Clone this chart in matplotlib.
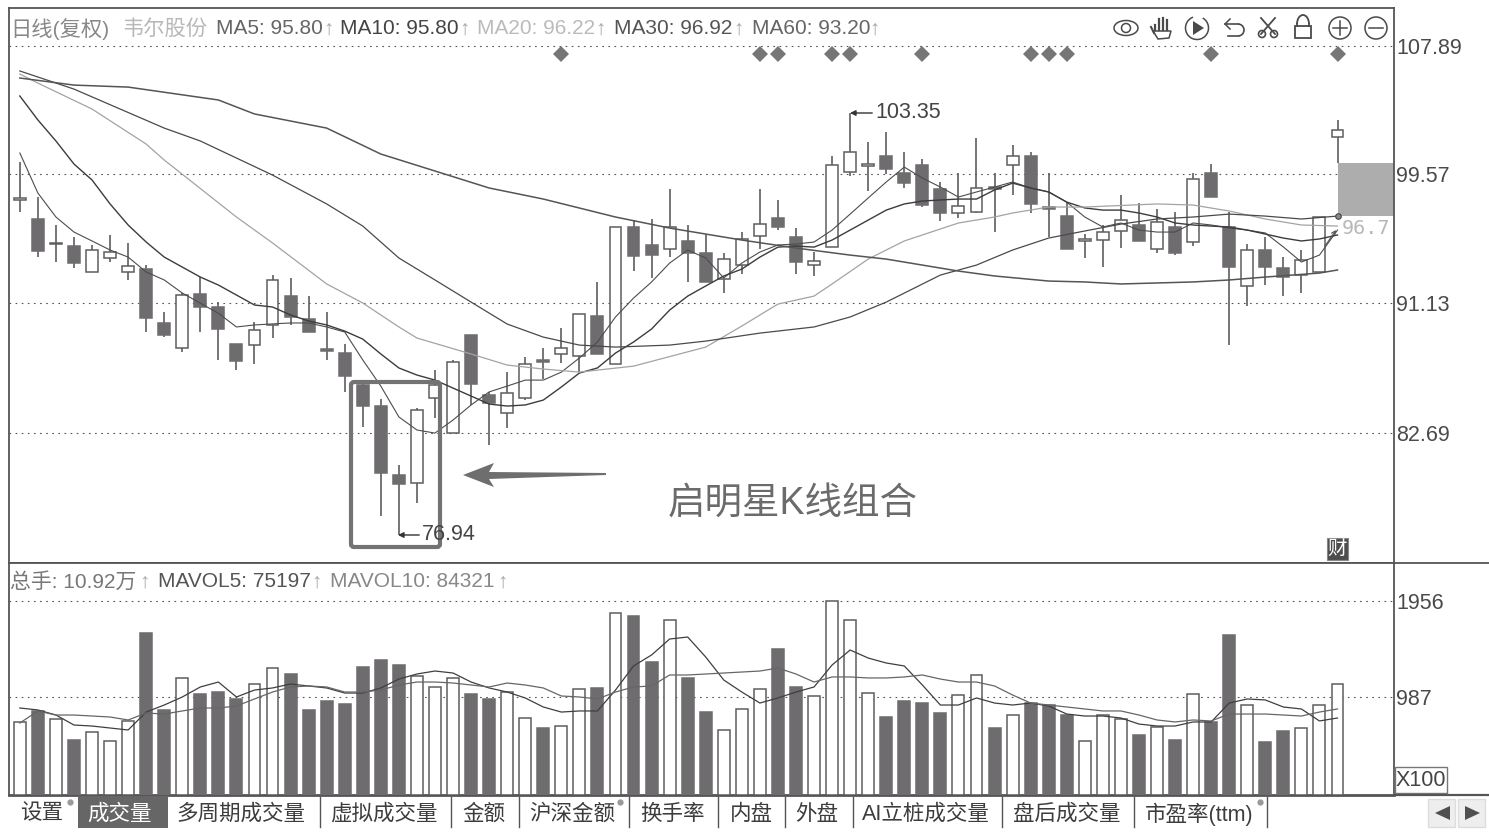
import numpy as np
import matplotlib
matplotlib.use('Agg')
import matplotlib.pyplot as plt
from matplotlib.patches import Rectangle, Circle, Polygon, FancyBboxPatch, Ellipse, Arc

plt.rcParams['font.family'] = ['Liberation Sans', 'Noto Sans CJK SC', 'DejaVu Sans']

# K line data
opens = [97.87, 96.63, 95.00, 94.87, 93.18, 94.09, 93.18, 93.37, 89.86, 88.23,
         91.75, 90.90, 88.49, 88.42, 89.73, 91.61, 90.12, 88.16, 87.90, 85.82,
         84.45, 79.96, 79.44, 84.97, 82.69, 89.08, 85.17, 83.99, 84.97, 87.45,
         87.84, 87.71, 90.31, 87.19, 96.11, 94.94, 94.67, 95.20, 94.42, 92.72,
         93.63, 95.52, 96.69, 95.46, 93.63, 94.80, 99.69, 100.08, 100.73, 99.62,
         100.14, 98.58, 97.02, 97.08, 98.71, 100.14, 100.73, 97.41, 96.82, 95.23,
         95.26, 95.85, 96.24, 94.67, 96.11, 95.13, 99.62, 96.11, 92.27, 94.61,
         93.44, 92.98, 93.18, 101.97]
closes = [98.00, 94.55, 95.07, 93.76, 94.61, 94.48, 93.57, 90.18, 89.08, 91.68,
          90.90, 89.47, 87.38, 89.40, 92.66, 90.25, 89.27, 88.03, 86.41, 84.45,
          80.09, 79.37, 84.19, 85.82, 87.32, 85.88, 84.65, 85.30, 87.19, 87.32,
          88.23, 90.44, 87.84, 96.11, 94.22, 94.28, 96.11, 94.42, 92.53, 94.02,
          95.33, 96.30, 96.11, 93.83, 93.89, 100.14, 100.99, 100.21, 99.88, 98.97,
          97.54, 97.02, 97.48, 98.65, 98.58, 100.73, 97.61, 97.28, 94.67, 95.33,
          95.78, 96.56, 95.20, 96.43, 94.42, 99.23, 98.06, 93.50, 94.61, 93.50,
          92.85, 93.96, 96.76, 102.42]
highs = [100.34, 98.06, 96.24, 95.46, 94.94, 95.59, 95.07, 93.63, 90.57, 91.81,
         92.85, 91.22, 88.49, 89.92, 92.98, 92.79, 91.61, 90.57, 88.49, 86.14,
         84.91, 80.61, 84.32, 86.80, 87.45, 89.08, 85.37, 86.66, 87.64, 88.23,
         89.53, 90.44, 92.53, 96.11, 96.56, 96.63, 98.58, 96.24, 95.65, 94.42,
         95.78, 98.58, 97.87, 96.04, 94.48, 100.73, 103.53, 101.64, 102.29, 100.99,
         100.54, 99.04, 99.62, 101.90, 99.62, 101.45, 100.99, 99.62, 97.73, 95.65,
         96.24, 98.19, 97.67, 97.28, 97.08, 99.62, 100.21, 97.08, 95.00, 95.46,
         94.15, 94.61, 96.76, 103.08]
lows = [97.08, 94.15, 93.83, 93.44, 93.18, 93.83, 92.66, 89.27, 88.95, 87.97,
        89.27, 87.45, 86.80, 87.19, 88.88, 89.73, 89.27, 87.45, 85.37, 83.08,
        77.29, 76.05, 78.13, 83.67, 82.69, 84.52, 81.91, 83.02, 84.84, 86.21,
        87.25, 86.66, 87.84, 87.19, 93.24, 92.79, 94.15, 92.53, 92.53, 91.81,
        93.05, 94.67, 95.91, 93.05, 92.92, 94.80, 99.43, 98.45, 99.56, 98.65,
        97.41, 96.50, 96.69, 97.02, 95.78, 98.19, 97.02, 95.46, 94.67, 94.09,
        93.50, 94.74, 95.20, 94.42, 94.28, 94.87, 98.06, 88.42, 90.96, 92.33,
        91.61, 91.81, 93.18, 100.28]

ma5 = [100.93, 98.32, 96.76, 95.78, 95.20, 94.61, 94.15, 93.18, 92.66, 91.81,
       91.15, 90.49, 89.60, 89.73, 89.80, 89.86, 89.86, 89.60, 89.27, 87.45,
       85.75, 83.74, 82.89, 82.69, 83.54, 84.52, 85.37, 85.75, 86.14, 86.14,
       86.66, 87.58, 88.62, 90.25, 91.48, 92.53, 93.76, 94.61, 94.09, 92.79,
       93.76, 94.48, 94.94, 95.00, 95.13, 95.91, 96.95, 98.00, 99.04, 100.01,
       99.30, 98.71, 98.06, 98.39, 98.71, 99.04, 98.65, 98.39, 97.73, 96.76,
       96.11, 96.37, 95.91, 95.78, 95.78, 96.37, 96.24, 96.04, 95.91, 95.72,
       94.81, 93.83, 94.28, 95.91]
ma10 = [104.64, 103.08, 101.71, 100.21, 99.17, 97.61, 96.24, 95.13, 94.15, 93.50,
        92.85, 92.33, 91.68, 91.03, 90.90, 90.38, 89.99, 89.73, 89.33, 88.81,
        87.84, 86.93, 86.47, 86.14, 85.62, 85.10, 84.58, 84.45, 84.52, 84.84,
        85.69, 86.60, 86.93, 87.90, 88.62, 89.47, 90.70, 91.61, 92.27, 92.92,
        93.37, 94.15, 94.80, 94.87, 94.80, 95.26, 95.91, 96.56, 97.21, 97.61,
        97.80, 97.87, 97.93, 97.93, 98.52, 98.97, 98.65, 98.39, 97.73, 97.35,
        97.21, 97.21, 97.02, 96.76, 96.37, 96.24, 96.17, 96.11, 95.91, 95.65,
        95.39, 95.20, 95.33, 95.59]
ma20_idx = [0, 1, 4, 7, 8, 12, 14, 17, 19, 21, 22, 25, 27, 29, 31, 34, 38, 40, 41, 42,
            44, 45, 47, 49, 52, 54, 55, 57, 59, 63, 65, 67, 69, 71, 73]
ma20 = [106.07, 105.48, 103.79, 101.51, 100.47, 96.76, 95.07, 92.40, 91.16, 89.60,
        88.88, 87.84, 87.12, 86.86, 86.66, 87.05, 88.29, 89.66, 90.38, 91.09,
        91.61, 92.40, 94.02, 95.20, 96.37, 96.76, 97.02, 97.41, 97.41, 97.61,
        97.54, 97.15, 96.63, 96.24, 96.17]
ma30_idx = [0, 3, 8, 10, 14, 17, 19, 21, 23, 25, 27, 29, 31, 33, 36, 38, 41, 44, 46, 48,
            51, 53, 55, 57, 59, 61, 63, 65, 67, 69, 71, 73]
ma30 = [106.27, 105.09, 102.55, 101.71, 99.49, 97.61, 96.17, 94.09, 92.66, 91.22,
        89.79, 88.94, 88.42, 88.29, 88.42, 88.68, 89.20, 89.60, 90.25, 91.22,
        92.98, 93.63, 94.61, 95.39, 95.85, 96.30, 96.63, 96.76, 96.95, 96.82,
        96.63, 96.82]
ma60_idx = [0, 3, 6, 11, 13, 17, 20, 26, 29, 33, 36, 40, 43, 46, 48, 52, 54, 57, 59, 61,
            65, 67, 69, 72, 73]
ma60 = [105.81, 105.35, 105.22, 104.38, 103.47, 102.55, 100.86, 98.65, 97.93, 96.76,
        96.04, 95.26, 94.74, 94.28, 94.02, 93.24, 92.92, 92.59, 92.53, 92.40,
        92.53, 92.66, 92.85, 93.11, 93.31]

signal_idx = [30, 41, 42, 45, 46, 50, 56, 57, 58, 66, 73]
signal_price = 107.37
price_ticks = [107.89, 99.57, 91.13, 82.69]

# volume, in units of 100
volume = [735, 846, 765, 553, 634, 543, 745, 1633, 856, 1179,
          1017, 1037, 967, 1118, 1279, 1219, 856, 946, 916, 1289,
          1360, 1310, 1199, 1088, 1179, 1017, 967, 1037, 775, 674,
          694, 1068, 1078, 1834, 1804, 1340, 1764, 1179, 835, 654,
          866, 1068, 1471, 1088, 997, 1956, 1764, 1027, 785, 946,
          926, 825, 1007, 1209, 674, 805, 926, 906, 805, 543,
          805, 765, 603, 684, 553, 1017, 735, 1612, 906, 533,
          644, 674, 906, 1118]
mavol5 = [876, 856, 805, 704, 694, 674, 654, 835, 906, 987,
          1088, 1138, 987, 1057, 1078, 1118, 1098, 1078, 1027, 1027,
          1078, 1168, 1219, 1249, 1229, 1138, 1078, 1037, 977, 886,
          835, 846, 846, 1057, 1300, 1411, 1572, 1592, 1390, 1158,
          1037, 926, 977, 1037, 1088, 1310, 1461, 1380, 1330, 1300,
          1108, 906, 906, 977, 926, 906, 926, 896, 815, 795,
          795, 775, 714, 694, 694, 735, 735, 926, 967, 957,
          886, 866, 745, 775]
mavol10 = [724, 846, 805, 805, 795, 785, 755, 825, 815, 846,
           876, 876, 896, 967, 1037, 1088, 1098, 1088, 1037, 1037,
           1057, 1108, 1138, 1138, 1128, 1108, 1088, 1128, 1108, 1078,
           997, 987, 967, 1037, 1088, 1098, 1209, 1209, 1219, 1229,
           1239, 1249, 1279, 1219, 1138, 1189, 1189, 1179, 1179, 1189,
           1209, 1168, 1138, 1138, 1098, 1007, 926, 906, 886, 866,
           846, 846, 805, 755, 735, 755, 745, 815, 815, 815,
           805, 795, 835, 866]
vol_ticks = [1956, 987]

tab_names = ['设置', '成交量', '多周期成交量', '虚拟成交量', '金额', '沪深金额', '换手率',
             '内盘', '外盘', 'AI立桩成交量', '盘后成交量', '市盈率(ttm)']

DARK = '#6e6c6e'
EDGE = '#5e5e5e'
W, H = 1489, 832


def px_axes(x0, y0, x1, y1):
    return fig.add_axes([x0 / W, 1 - y1 / H, (x1 - x0) / W, (y1 - y0) / H])


fig = plt.figure(figsize=(W / 100, H / 100), dpi=100, facecolor='white')
ax = px_axes(9, 8, 1394, 563)
ax2 = px_axes(9, 563, 1394, 795)

x = np.arange(len(closes))
o, c = np.array(opens), np.array(closes)
up = c >= o
bar_w = 0.66
xlim = (-0.60, 76.13)

# upper panel: K lines
ax.vlines(x, lows, highs, color=EDGE, lw=1.2, zorder=2)
ax.bar(x, np.abs(c - o), bottom=np.minimum(o, c), width=bar_w, zorder=3,
       facecolor=['white' if u else DARK for u in up],
       edgecolor=[EDGE if u else DARK for u in up], linewidth=1.1)
ax.plot(x, ma5, color='#4d4d4d', lw=0.8, zorder=4)
ax.plot(x, ma10, color='#3c3c3c', lw=1.0, zorder=4)
ax.plot(ma20_idx, ma20, color='#a3a3a3', lw=0.9, zorder=4)
ax.plot(ma30_idx, ma30, color='#4a4a4a', lw=0.9, zorder=4)
ax.plot(ma60_idx, ma60, color='#555555', lw=1.1, zorder=4)
ax.plot(signal_idx, [signal_price] * len(signal_idx), ls='none', marker='D', ms=8.5,
        color='#767676', mew=0, zorder=4)
# today's range block at the right edge
ax.add_patch(Rectangle((x[-1], ma30[-1]), xlim[1] - x[-1], lows[-1] - ma30[-1],
                       facecolor='#adadad', edgecolor='none', zorder=1))
ax.plot(x[-1], ma30[-1], marker='o', ms=4, mfc='#888888', mec='#444444', mew=0.8, zorder=5)
ax.set_xlim(xlim)
ax.set_ylim(74.23, 110.37)
ax.set_yticks(price_ticks)
ax.set_yticklabels(['%.2f' % t for t in price_ticks])

# lower panel: volume
ax2.bar(x, volume, width=bar_w, zorder=3,
        facecolor=['white' if u else DARK for u in up],
        edgecolor=[EDGE if u else DARK for u in up], linewidth=1.1)
ax2.plot(x, mavol5, color='#3f3f3f', lw=0.9, zorder=4)
ax2.plot(x, mavol10, color='#666666', lw=0.9, zorder=4)
ax2.set_xlim(xlim)
ax2.set_ylim(-2, 2339)
ax2.set_yticks(vol_ticks)
ax2.set_yticklabels([str(t) for t in vol_ticks])

for a in (ax, ax2):
    a.yaxis.tick_right()
    a.set_xticks([])
    a.tick_params(axis='y', length=0, pad=1.5, labelsize=15.5, labelcolor='#4a4a4a')
    a.grid(axis='y', color='#555555', lw=0.8, ls=(0, (1.5, 4)), zorder=0)
    a.set_axisbelow(True)
    for s in a.spines.values():
        s.set_color('#555555')
        s.set_linewidth(1.3)
ax2.spines['bottom'].set_linewidth(2)

# everything around the charts is placed in picture pixels
ov = fig.add_axes([0, 0, 1, 1])
ov.set_xlim(0, W)
ov.set_ylim(H, 0)
ov.axis('off')
ov.patch.set_alpha(0)

ov.plot([1394, 1489], [563, 563], color='#555555', lw=1.3)
ov.plot([1394, 1489], [795, 795], color='#555555', lw=1.6)

header = [(10, '日线(复权)', '#888888', None), (122, '韦尔股份', '#b8b8b8', None),
          (216, 'MA5: 95.80', '#666666', 328), (340, 'MA10: 95.80', '#444444', 464),
          (477, 'MA20: 96.22', '#bbbbbb', 601), (614, 'MA30: 96.92', '#555555', 739),
          (752, 'MA60: 93.20', '#666666', 875)]
for hx, s, col, arrow_x in header:
    ov.text(hx, 28.5, s, color=col, fontsize=15.3 if arrow_x is None else 15, va='center', ha='left')
    if arrow_x:
        ov.text(arrow_x, 29, '↑', color='#aaaaaa', fontsize=15, va='center', ha='center')
vol_header = [(10, '总手: 10.92万', '#777777', 145), (158, 'MAVOL5: 75197', '#555555', 317),
              (330, 'MAVOL10: 84321', '#888888', 502)]
for hx, s, col, arrow_x in vol_header:
    ov.text(hx, 581.5, s, color=col, fontsize=15, va='center', ha='left')
    ov.text(arrow_x, 582, '↑', color='#aaaaaa', fontsize=15, va='center', ha='center')

# price marks
ov.annotate('103.35', xy=(850, 113), xytext=(875, 113), fontsize=15.5, color='#444444', va='center',
            arrowprops=dict(arrowstyle='-|>', color='#333333', lw=1, mutation_scale=8, shrinkA=0, shrinkB=0))
ov.annotate('76.94', xy=(398, 535), xytext=(422, 535), fontsize=15.5, color='#444444', va='center',
            arrowprops=dict(arrowstyle='-|>', color='#333333', lw=1, mutation_scale=8, shrinkA=0, shrinkB=0))
ov.text(1342, 228, '96.7', fontsize=14.5, color='#b8b8b8', family='DejaVu Sans Mono', va='center')
ov.annotate('', xy=(1336, 230), xytext=(1325, 246),
            arrowprops=dict(arrowstyle='->', color='#555555', lw=0.8, mutation_scale=7, shrinkA=0, shrinkB=0))

# morning star box, arrow and note
ov.add_patch(FancyBboxPatch((351, 382), 89, 165, boxstyle='round,pad=0,rounding_size=3',
                            facecolor='none', edgecolor='#737373', lw=3))
ov.add_patch(Polygon([(463, 475), (494, 463), (489, 472), (606, 473), (606, 475), (489, 479), (494, 487)],
                     closed=True, facecolor='#6e6e6e', edgecolor='none'))
ov.text(668, 504, '启明星K线组合', fontsize=27, color='#6b6b6b', va='center', ha='left')

# 财 mark
ov.add_patch(Rectangle((1327, 538), 21, 22, facecolor='#4d4d4d', edgecolor='#888888', lw=0.8))
ov.text(1337.5, 549.5, '财', fontsize=14, color='white', ha='center', va='center')

# toolbar icons
ic = '#4a4a4a'
ov.add_patch(Ellipse((1126, 28), 24, 15, fc='none', ec=ic, lw=1.1))
ov.add_patch(Circle((1126, 28), 4.5, fc='none', ec=ic, lw=1.1))
for fx, top in [(-6, 25), (-2, 19), (2, 18), (6, 20)]:
    ov.plot([1161 + fx, 1161 + fx], [top, 30], color=ic, lw=1.6)
ov.add_patch(Polygon([(1153, 31), (1171, 31), (1169, 38), (1158, 39)], fc='white', ec=ic, lw=1.1))
ov.plot([1151, 1154], [27, 33], color=ic, lw=1.5)
ov.add_patch(Arc((1197, 28), 23, 23, theta1=-60, theta2=250, ec=ic, lw=1.1))
ov.add_patch(Polygon([(1193, 21), (1193, 35), (1204, 28)], fc=ic, ec='none'))
ov.plot([1225, 1238], [24, 24], color=ic, lw=1.2)
ov.add_patch(Arc((1238, 30), 12, 12, theta1=-90, theta2=90, ec=ic, lw=1.2))
ov.plot([1238, 1228], [36, 36], color=ic, lw=1.2)
ov.plot([1230, 1225, 1230], [19, 24, 29], color=ic, lw=1.1)
ov.plot([1261, 1275], [18, 34], color=ic, lw=1.3)
ov.plot([1275, 1261], [18, 34], color=ic, lw=1.3)
ov.add_patch(Circle((1262, 34), 3.5, fc='white', ec=ic, lw=1.2))
ov.add_patch(Circle((1274, 34), 3.5, fc='white', ec=ic, lw=1.2))
ov.add_patch(Rectangle((1295, 26), 16, 12, fc='none', ec=ic, lw=1.3))
ov.add_patch(Arc((1303, 24), 12, 18, theta1=180, theta2=360, ec=ic, lw=1.3))
ov.plot([1297, 1297], [24, 26], color=ic, lw=1.3)
ov.plot([1309, 1309], [24, 26], color=ic, lw=1.3)
for cx in (1340, 1376):
    ov.add_patch(Circle((cx, 28), 11, fc='none', ec=ic, lw=1.1))
    ov.plot([cx - 7, cx + 7], [28, 28], color=ic, lw=1.1)
ov.plot([1340, 1340], [21, 35], color=ic, lw=1.1)

# X100 box
ov.add_patch(Rectangle((1395, 767), 52, 26, fc='white', ec='#777777', lw=1))
ov.text(1421, 780, 'X100', fontsize=15.5, color='#444444', ha='center', va='center')

# tabs
tab_centers = [42, 120, 241, 384, 484, 572, 672, 751, 817, 926, 1067, 1199]
for cx, s in zip(tab_centers, tab_names):
    ov.text(cx, 814, s, fontsize=15.5, color='white' if s == '成交量' else '#3c3c3c', ha='center', va='center',
            zorder=5)
ov.add_patch(Rectangle((78, 796), 90, 32, fc='#666666', ec='none', zorder=4))
for sx in [320, 451, 519, 629, 718, 785, 853, 1002, 1134, 1267]:
    ov.plot([sx, sx], [797, 827], color='#555555', lw=1)
for sx in [70, 620, 1260]:
    ov.plot(sx, 802, marker='o', ms=3.5, color='#999999')

# scroll buttons
for bx, tri in [(1428, [(1450, 806), (1450, 820), (1435, 813)]),
                (1458, [(1465, 806), (1465, 820), (1480, 813)])]:
    ov.add_patch(Rectangle((bx, 799), 27, 28, fc='#eeeeee', ec='#dddddd', lw=1))
    ov.add_patch(Polygon(tri, fc='#4f4f4f', ec='none'))

fig.savefig('out.png', dpi=100)
